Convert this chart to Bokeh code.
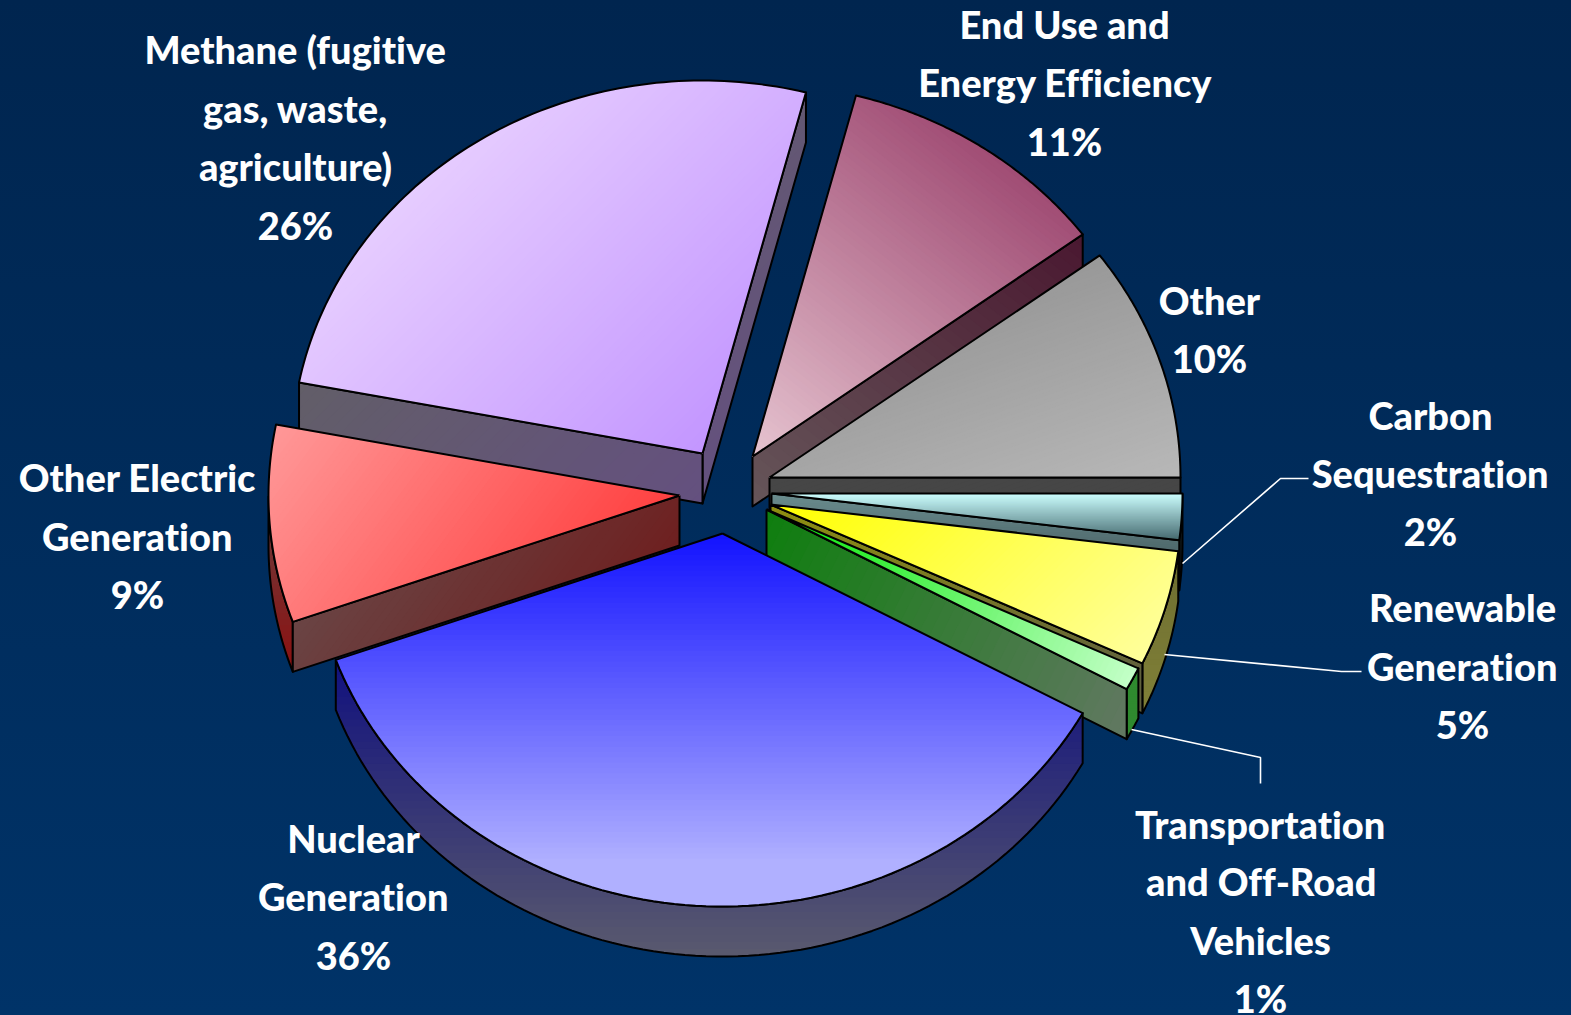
import numpy as np
from bokeh.plotting import figure
from bokeh.models import Range1d
from bokeh.core.properties import value
from bokeh.embed import file_html
from bokeh.resources import INLINE

# ---- data -------------------------------------------------------------
categories = ["Other", "End Use and\nEnergy Efficiency",
              "Methane (fugitive\ngas, waste,\nagriculture)",
              "Other Electric\nGeneration", "Nuclear\nGeneration",
              "Transportation\nand Off-Road\nVehicles",
              "Renewable\nGeneration", "Carbon\nSequestration"]
shares = [10.15, 10.8, 26.0, 8.55, 36.5, 1.0, 5.0, 2.0]
percent_labels = ["10%", "11%", "26%", "9%", "36%", "1%", "5%", "2%"]

# ---- layout & style ---------------------------------------------------
W, H = 1571, 1015
RX, RY, DEPTH = 411.0, 373.0, 50.0
apex = [(769, 477), (752, 456), (702, 453), (679, 495),
        (722, 533), (766, 509), (770, 504), (771, 493)]
draw_order = [2, 1, 0, 3, 7, 6, 5, 4]
# gradient direction, top colours, gradient span, wall colours, curved wall colours
style = [
    ((0.35, 1.0), "#989898", "#b8b8b8", 1.0, "#464646", "#464646", None),
    ((-0.62, 0.78), "#a04c74", "#e6c4d0", 1.0, "#4a1830", "#66565a", None),
    ((0.72, 0.70), "#e6ccff", "#c396ff", 1.0, "#625e68", "#64507f", None),
    ((0.80, 0.60), "#ff9898", "#ff4040", 1.0, "#6a4444", "#6e2020", ("#6a4040", "#8c1010")),
    ((0.0, 1.0), "#1212ff", "#b0b0ff", 0.88, "#10107e", "#5a5a6e", None),
    ((0.90, 0.44), "#00e800", "#c4ffc8", 1.0, "#0e7e0e", "#627862", ("#2f8a2f", "#2f8a2f")),
    ((0.70, 0.72), "#ffff00", "#ffff9c", 1.0, "#8e8e10", "#5e5e40", ("#6e6e30", "#808038")),
    ((0.0, 1.0), "#ccffff", "#44686e", 1.0, "#6a8c8e", "#3c5054", ("#203034", "#101010")),
]
label_centers = [(1209, [299.5, 357.5]), (1064, [23.5, 81.5, 140.5]),
                 (295, [48.5, 107.5, 165.5, 224.5]), (137, [476.5, 535.5, 593.5]),
                 (353, [837.5, 895.5, 954.5]), (1260, [823.5, 880.5, 939.5, 997.5]),
                 (1462, [606.5, 665.5, 723.5]), (1430, [414.5, 472.5, 530.5])]
leaders = [([1182, 1280, 1308], [563, 478, 478]),
           ([1164, 1341, 1361], [654, 671, 671]),
           ([1131, 1260, 1260], [729, 757, 783])]


def hex2rgb(c):
    return np.array([int(c[i:i + 2], 16) for i in (1, 3, 5)], float)


def clip(poly, n, d):
    """Sutherland-Hodgman clip of poly to the half plane p.n >= d."""
    out = []
    for i in range(len(poly)):
        a, b = poly[i], poly[(i + 1) % len(poly)]
        fa = a[0] * n[0] + a[1] * n[1] - d
        fb = b[0] * n[0] + b[1] * n[1] - d
        if fa >= 0:
            out.append(a)
        if fa * fb < 0:
            s = fa / (fa - fb)
            out.append((a[0] + s * (b[0] - a[0]), a[1] + s * (b[1] - a[1])))
    return out


def draw_shaded(p, polys, n, c0, c1, span=1.0, bands=50, lw=2.0):
    proj = [q[0] * n[0] + q[1] * n[1] for poly in polys for q in poly]
    lo, hi = min(proj), max(proj)
    c0, c1 = hex2rgb(c0), hex2rgb(c1)
    for poly in polys:
        xs, ys, cols = [], [], []
        # painter's order: each band covers everything beyond it, so no seams
        for k in range(bands):
            piece = clip(poly, n, lo + (hi - lo) * k / bands)
            if len(piece) < 3:
                continue
            f = min(1.0, (k + 0.5) / bands / span)
            rgb = (c0 + (c1 - c0) * f).round().astype(int)
            xs.append([q[0] for q in piece])
            ys.append([q[1] for q in piece])
            cols.append("#%02x%02x%02x" % tuple(rgb))
        if xs:
            p.patches(xs, ys, fill_color=cols, line_color=None)
        closed = poly + [poly[0]]
        p.line([q[0] for q in closed], [q[1] for q in closed],
               line_color="#000000", line_width=lw, line_join="round")


p = figure(width=W, height=H, x_range=Range1d(0, W), y_range=Range1d(H, 0),
           output_backend="svg", toolbar_location=None, min_border=0,
           background_fill_alpha=0, border_fill_alpha=0, outline_line_color=None)
p.axis.visible = False
p.grid.visible = False

# slice angles come from the shares
fracs = np.array(shares) / sum(shares) * 360.0
ends = np.cumsum(fracs)
starts = ends - fracs

for i in draw_order:
    cx, cy = apex[i]
    t = np.radians(np.linspace(starts[i], ends[i], 90))
    ax = cx + RX * np.cos(t)
    ay = cy - RY * np.sin(t)
    rim = list(zip(ax, ay))
    n, c0, c1, span, w0, w1, curved = style[i]
    walls = []
    # radial faces turned towards the viewer
    if np.cos(t[0]) > 0:
        e = rim[0]
        walls.append([(cx, cy), e, (e[0], e[1] + DEPTH), (cx, cy + DEPTH)])
    if np.cos(t[-1]) < 0:
        e = rim[-1]
        walls.append([(cx, cy), e, (e[0], e[1] + DEPTH), (cx, cy + DEPTH)])
    # outer curved face, the part turned towards the viewer
    deg = np.degrees(t)
    front = [q for q, a in zip(rim, deg) if 180 <= a <= 360]
    arc = []
    if len(front) > 1:
        arc = [front + [(q[0], q[1] + DEPTH) for q in reversed(front)]]
    if curved is None:
        walls += arc
        arc = []
    if arc:
        draw_shaded(p, arc, (0.0, 1.0), curved[0], curved[1], bands=30)
    if walls:
        draw_shaded(p, walls, n, w0, w1, bands=40)
    draw_shaded(p, [[(cx, cy)] + rim], n, c0, c1, span=span, bands=70)

for lx, ly in leaders:
    p.line(lx, ly, line_color="#ffffff", line_width=1.6)

for name, pct, (lx, lys) in zip(categories, percent_labels, label_centers):
    lines = name.split("\n") + [pct]
    p.text([lx] * len(lines), lys, text=lines, text_color="#ffffff",
           text_font=value("Lato Black"), text_font_style="normal",
           text_font_size="38px", text_align="center", text_baseline="middle")

css = ("<head><style>html,body{background:linear-gradient(#00254f,#003368) "
       "no-repeat;background-size:100% 100%;height:100%;"
       "font-variant-ligatures:none}</style>")
open("out.html", "w").write(file_html(p, INLINE).replace("<head>", css, 1))
